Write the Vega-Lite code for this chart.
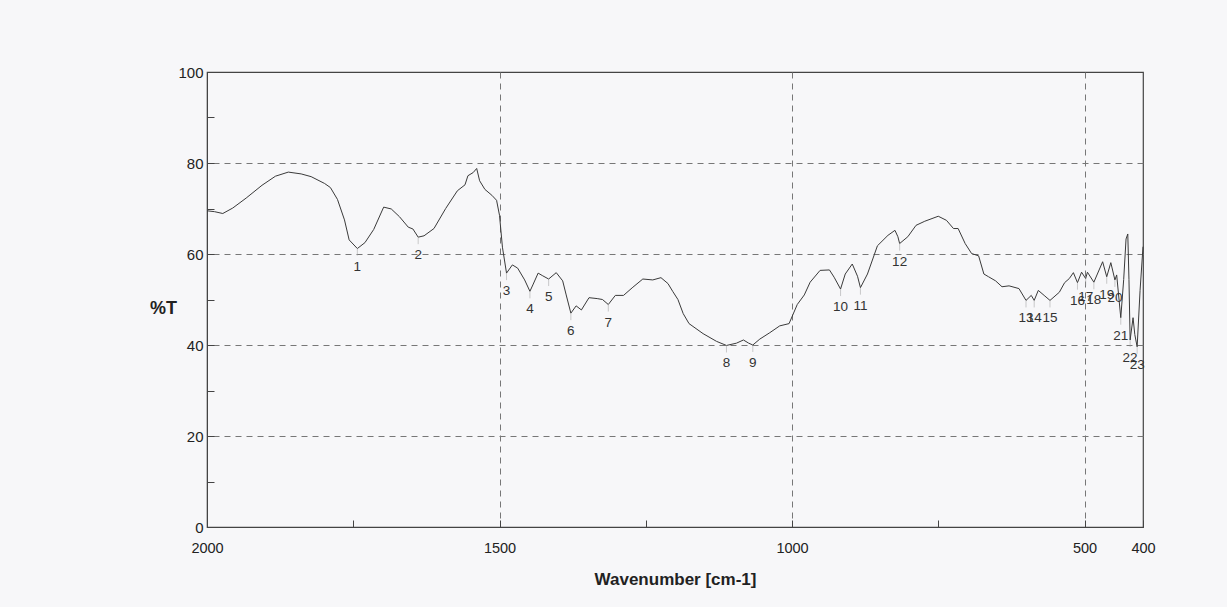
{
  "$schema": "https://vega.github.io/schema/vega-lite/v6.json",
  "width": 936,
  "height": 455,
  "autosize": {"type": "none"},
  "padding": {"left": 207, "top": 72, "right": 84, "bottom": 80},
  "background": "#f7f7f9",
  "config": {
    "view": {"stroke": "#444", "strokeWidth": 1.2},
    "font": "Liberation Sans"
  },
  "datasets": {
    "spectrum": [
      {"wn": 2000, "T": 69.5}, {"wn": 1987, "T": 69.3}, {"wn": 1973, "T": 68.9}, {"wn": 1956, "T": 70.1},
      {"wn": 1933, "T": 72.3}, {"wn": 1906, "T": 75.1}, {"wn": 1883, "T": 77.1}, {"wn": 1861, "T": 78.0},
      {"wn": 1839, "T": 77.6}, {"wn": 1822, "T": 77.0}, {"wn": 1799, "T": 75.5}, {"wn": 1789, "T": 74.6},
      {"wn": 1777, "T": 72.0}, {"wn": 1765, "T": 67.5}, {"wn": 1757, "T": 63.1}, {"wn": 1743, "T": 61.2},
      {"wn": 1730, "T": 62.5}, {"wn": 1715, "T": 65.4}, {"wn": 1698, "T": 70.3}, {"wn": 1685, "T": 69.9},
      {"wn": 1671, "T": 68.2}, {"wn": 1656, "T": 65.9}, {"wn": 1648, "T": 65.5}, {"wn": 1639, "T": 63.7},
      {"wn": 1629, "T": 64.0}, {"wn": 1612, "T": 65.6}, {"wn": 1592, "T": 70.0}, {"wn": 1572, "T": 73.9},
      {"wn": 1559, "T": 75.2}, {"wn": 1554, "T": 77.2}, {"wn": 1545, "T": 77.9}, {"wn": 1539, "T": 78.8},
      {"wn": 1534, "T": 76.1}, {"wn": 1525, "T": 74.2}, {"wn": 1513, "T": 72.9}, {"wn": 1505, "T": 71.8},
      {"wn": 1500, "T": 68.5}, {"wn": 1495, "T": 61.5}, {"wn": 1488, "T": 55.8}, {"wn": 1478, "T": 57.6},
      {"wn": 1469, "T": 56.9}, {"wn": 1457, "T": 54.3}, {"wn": 1448, "T": 51.8}, {"wn": 1443, "T": 53.2},
      {"wn": 1434, "T": 55.8}, {"wn": 1426, "T": 55.2}, {"wn": 1416, "T": 54.5}, {"wn": 1403, "T": 55.9},
      {"wn": 1392, "T": 54.1}, {"wn": 1386, "T": 51.0}, {"wn": 1378, "T": 47.0}, {"wn": 1369, "T": 48.6},
      {"wn": 1360, "T": 47.7}, {"wn": 1347, "T": 50.4}, {"wn": 1333, "T": 50.2}, {"wn": 1324, "T": 50.0},
      {"wn": 1314, "T": 48.9}, {"wn": 1302, "T": 50.9}, {"wn": 1288, "T": 50.9}, {"wn": 1272, "T": 52.7},
      {"wn": 1255, "T": 54.5}, {"wn": 1238, "T": 54.3}, {"wn": 1224, "T": 54.8}, {"wn": 1212, "T": 53.5},
      {"wn": 1204, "T": 51.8}, {"wn": 1195, "T": 50.0}, {"wn": 1186, "T": 46.9}, {"wn": 1176, "T": 44.7},
      {"wn": 1152, "T": 42.5}, {"wn": 1129, "T": 40.8}, {"wn": 1112, "T": 39.9}, {"wn": 1095, "T": 40.4},
      {"wn": 1083, "T": 41.1}, {"wn": 1074, "T": 40.4}, {"wn": 1067, "T": 40.0}, {"wn": 1055, "T": 41.3},
      {"wn": 1038, "T": 42.7}, {"wn": 1021, "T": 44.2}, {"wn": 1005, "T": 44.7}, {"wn": 991, "T": 48.9},
      {"wn": 979, "T": 51.0}, {"wn": 969, "T": 53.8}, {"wn": 952, "T": 56.4}, {"wn": 936, "T": 56.5},
      {"wn": 928, "T": 54.9}, {"wn": 917, "T": 52.3}, {"wn": 909, "T": 55.6}, {"wn": 897, "T": 57.8},
      {"wn": 888, "T": 55.1}, {"wn": 883, "T": 52.6}, {"wn": 871, "T": 55.6}, {"wn": 854, "T": 61.8},
      {"wn": 836, "T": 64.1}, {"wn": 824, "T": 65.2}, {"wn": 819, "T": 63.8}, {"wn": 816, "T": 62.3},
      {"wn": 802, "T": 63.8}, {"wn": 788, "T": 66.3}, {"wn": 773, "T": 67.2}, {"wn": 750, "T": 68.3},
      {"wn": 736, "T": 67.4}, {"wn": 724, "T": 65.6}, {"wn": 716, "T": 65.6}, {"wn": 704, "T": 62.3},
      {"wn": 693, "T": 60.1}, {"wn": 681, "T": 59.6}, {"wn": 672, "T": 55.6}, {"wn": 664, "T": 55.0},
      {"wn": 652, "T": 54.1}, {"wn": 641, "T": 52.8}, {"wn": 629, "T": 53.0}, {"wn": 612, "T": 52.4},
      {"wn": 600, "T": 49.8}, {"wn": 591, "T": 50.9}, {"wn": 586, "T": 49.8}, {"wn": 579, "T": 52.0},
      {"wn": 569, "T": 50.9}, {"wn": 559, "T": 49.8}, {"wn": 543, "T": 51.6}, {"wn": 534, "T": 53.7},
      {"wn": 526, "T": 54.6}, {"wn": 519, "T": 55.9}, {"wn": 512, "T": 53.7}, {"wn": 505, "T": 56.0},
      {"wn": 498, "T": 54.6}, {"wn": 495, "T": 56.0}, {"wn": 484, "T": 53.8}, {"wn": 469, "T": 58.3},
      {"wn": 462, "T": 55.0}, {"wn": 455, "T": 58.1}, {"wn": 448, "T": 54.3}, {"wn": 445, "T": 55.4},
      {"wn": 438, "T": 46.0}, {"wn": 433, "T": 54.4}, {"wn": 429, "T": 63.3}, {"wn": 426, "T": 64.4},
      {"wn": 424, "T": 54.4}, {"wn": 422, "T": 41.1}, {"wn": 417, "T": 46.0}, {"wn": 414, "T": 42.3},
      {"wn": 410, "T": 39.6}, {"wn": 405, "T": 52.0}, {"wn": 400, "T": 61.6}
    ],
    "peaks": [
      {"label": "1", "wn": 1743, "T": 61.2}, {"label": "2", "wn": 1639, "T": 63.7},
      {"label": "3", "wn": 1488, "T": 55.8}, {"label": "4", "wn": 1448, "T": 51.8},
      {"label": "5", "wn": 1416, "T": 54.5}, {"label": "6", "wn": 1378, "T": 47.0},
      {"label": "7", "wn": 1314, "T": 48.9}, {"label": "8", "wn": 1112, "T": 39.9},
      {"label": "9", "wn": 1067, "T": 40.0}, {"label": "10", "wn": 917, "T": 52.3},
      {"label": "11", "wn": 883, "T": 52.6}, {"label": "12", "wn": 816, "T": 62.3},
      {"label": "13", "wn": 600, "T": 49.8}, {"label": "14", "wn": 586, "T": 49.8},
      {"label": "15", "wn": 559, "T": 49.8}, {"label": "16", "wn": 512, "T": 53.7},
      {"label": "17", "wn": 498, "T": 54.6}, {"label": "18", "wn": 484, "T": 53.8},
      {"label": "19", "wn": 462, "T": 55.0}, {"label": "20", "wn": 448, "T": 54.3},
      {"label": "21", "wn": 438, "T": 46.0}, {"label": "22", "wn": 422, "T": 41.1},
      {"label": "23", "wn": 410, "T": 39.6}
    ]
  },
  "encoding": {
    "x": {
      "field": "wn", "type": "quantitative",
      "scale": {"domain": [400, 2000], "reverse": true, "nice": false, "zero": false},
      "axis": {
        "values": [2000, 1750, 1500, 1250, 1000, 750, 500, 400],
        "format": "d",
        "labelExpr": "datum.value == 1750 || datum.value == 1250 || datum.value == 750 ? '' : datum.label",
        "tickSize": -7, "tickColor": "#444", "domainColor": "#444",
        "grid": true, "gridColor": "#777", "gridDash": [6, 5],
        "gridOpacity": {"condition": {"test": "datum.value == 1500 || datum.value == 1000 || datum.value == 500", "value": 1}, "value": 0},
        "labelFontSize": 14.5, "labelColor": "#222", "labelPadding": 21, "labelFlush": false,
        "title": "Wavenumber [cm-1]", "titleFontSize": 17, "titleFontWeight": "bold", "titleColor": "#222",
        "titleY": 57, "titleBaseline": "alphabetic"
      }
    },
    "y": {
      "field": "T", "type": "quantitative",
      "scale": {"domain": [0, 100], "nice": false},
      "axis": {
        "values": [0, 10, 20, 30, 40, 50, 60, 70, 80, 90, 100],
        "labelExpr": "datum.value % 20 == 0 ? datum.label : ''",
        "tickSize": -7, "tickColor": "#444", "domainColor": "#444",
        "grid": true, "gridColor": "#777", "gridDash": [6, 5],
        "gridOpacity": {"condition": {"test": "datum.value % 20 == 0 && datum.value > 0 && datum.value < 100", "value": 1}, "value": 0},
        "labelFontSize": 15, "labelColor": "#222", "labelPadding": 11, "labelFlush": false,
        "title": "%T", "titleAngle": 0, "titleX": -44, "titleY": 236, "titleAlign": "center", "titleBaseline": "middle",
        "titleFontSize": 18, "titleFontWeight": "bold", "titleColor": "#222"
      }
    }
  },
  "layer": [
    {
      "data": {"name": "spectrum"},
      "mark": {"type": "line", "color": "#3a3a3a", "strokeWidth": 1}
    },
    {
      "data": {"name": "peaks"},
      "mark": {"type": "point", "shape": "M0,0L0,1", "size": 196, "filled": false, "color": "#999", "strokeWidth": 0.7}
    },
    {
      "data": {"name": "peaks"},
      "mark": {"type": "text", "dy": 18, "fontSize": 13.5, "color": "#333", "baseline": "middle", "align": "center"},
      "encoding": {"text": {"field": "label"}}
    }
  ]
}
